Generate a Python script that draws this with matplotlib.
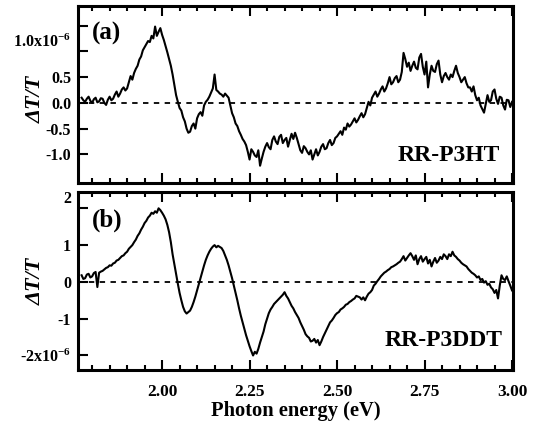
import numpy as np
import matplotlib
matplotlib.use("Agg")
import matplotlib.pyplot as plt
import matplotlib.transforms as mtransforms
from matplotlib.ticker import FixedLocator, MultipleLocator

plt.rcParams['font.family'] = ['Liberation Serif', 'DejaVu Serif']
plt.rcParams['font.weight'] = 'bold'
plt.rcParams['axes.unicode_minus'] = False
plt.rcParams['mathtext.fontset'] = 'custom'
plt.rcParams['mathtext.rm'] = 'Liberation Serif:bold'
plt.rcParams['mathtext.default'] = 'rm'

# energia de foton (eV), muestreo cada 0.005 eV
energia = np.round(np.linspace(1.77, 3.00, 247), 3)

# RR-P3HT, unidades de 1e-6
dT_p3ht = [
    0.10, 0.05, 0.02, 0.08, 0.12, 0.04, 0.00, 0.07, 0.10, 0.01,
    0.03, 0.09, 0.08, 0.00, -0.04, 0.06, 0.12, 0.05, 0.08, 0.16,
    0.22, 0.12, 0.18, 0.26, 0.30, 0.24, 0.28, 0.40, 0.52, 0.45,
    0.58, 0.66, 0.72, 0.84, 0.90, 1.02, 1.08, 1.14, 1.20, 1.18,
    1.30, 1.25, 1.48, 1.30, 1.38, 1.45, 1.32, 1.22, 1.10, 0.98,
    0.85, 0.72, 0.55, 0.35, 0.15, 0.02, -0.10, -0.15, -0.28, -0.36,
    -0.50, -0.58, -0.56, -0.45, -0.40, -0.50, -0.30, -0.22, -0.18, -0.25,
    -0.05, 0.02, 0.06, 0.12, 0.20, 0.28, 0.55, 0.25, 0.22, 0.18,
    0.16, 0.12, 0.18, 0.14, 0.10, -0.05, -0.20, -0.28, -0.40, -0.45,
    -0.55, -0.62, -0.70, -0.75, -0.82, -0.95, -1.10, -0.90, -0.95, -1.02,
    -1.05, -0.92, -1.22, -1.08, -0.95, -0.85, -0.78, -0.86, -0.90, -0.72,
    -0.65, -0.75, -0.80, -0.66, -0.62, -0.78, -0.72, -0.68, -0.85, -0.72,
    -0.60, -0.70, -0.58, -0.68, -0.80, -0.92, -0.97, -0.84, -0.88, -0.95,
    -1.00, -0.92, -1.10, -1.00, -0.90, -1.02, -0.95, -0.85, -0.80, -0.90,
    -0.88, -0.78, -0.72, -0.82, -0.78, -0.68, -0.65, -0.60, -0.55, -0.62,
    -0.48, -0.52, -0.40, -0.46, -0.42, -0.36, -0.30, -0.38, -0.33, -0.26,
    -0.20, -0.28, -0.22, -0.10, 0.02, -0.05, 0.10, 0.16, 0.22, 0.12,
    0.18, 0.26, 0.32, 0.22, 0.28, 0.38, 0.50, 0.36, 0.40, 0.48,
    0.52, 0.40, 0.45, 0.60, 0.97, 0.85, 0.70, 0.78, 0.62, 0.72,
    0.80, 0.68, 0.65, 0.88, 0.95, 0.70, 0.55, 0.80, 0.30, 0.55,
    0.72, 0.62, 0.60, 0.75, 0.82, 0.55, 0.40, 0.52, 0.58, 0.50,
    0.45, 0.55, 0.50, 0.62, 0.72, 0.58, 0.50, 0.40, 0.45, 0.50,
    0.38, 0.30, 0.30, 0.22, 0.32, 0.15, 0.05, 0.10, -0.05, -0.12,
    -0.19, -0.02, 0.15, 0.02, 0.05, 0.22, 0.26, 0.08, -0.02, 0.12,
    0.10, -0.05, -0.13, 0.06, 0.05, -0.08, 0.02,
]

# RR-P3DDT, unidades de 1e-6
dT_p3ddt = [
    0.18, 0.08, 0.10, 0.20, 0.22, 0.12, 0.15, 0.24, 0.27, -0.14,
    0.25, 0.28, 0.30, 0.34, 0.38, 0.40, 0.45, 0.44, 0.50, 0.52,
    0.58, 0.60, 0.65, 0.70, 0.72, 0.78, 0.82, 0.90, 0.95, 1.00,
    1.08, 1.15, 1.25, 1.32, 1.42, 1.50, 1.60, 1.66, 1.75, 1.80,
    1.88, 1.85, 1.92, 1.88, 2.00, 1.95, 1.88, 1.80, 1.70, 1.55,
    1.35, 1.08, 0.75, 0.48, 0.20, -0.05, -0.30, -0.50, -0.68, -0.80,
    -0.86, -0.82, -0.78, -0.68, -0.55, -0.40, -0.23, -0.05, 0.12, 0.28,
    0.45, 0.60, 0.72, 0.82, 0.90, 0.96, 1.00, 0.94, 0.98, 0.95,
    0.92, 0.84, 0.72, 0.60, 0.45, 0.28, 0.10, -0.10, -0.30, -0.50,
    -0.72, -0.92, -1.10, -1.28, -1.45, -1.60, -1.75, -1.88, -2.00, -1.90,
    -1.95, -1.82, -1.65, -1.50, -1.35, -1.15, -1.00, -0.85, -0.75, -0.68,
    -0.60, -0.55, -0.50, -0.45, -0.40, -0.35, -0.28, -0.38, -0.45, -0.55,
    -0.65, -0.72, -0.82, -0.90, -0.98, -1.10, -1.20, -1.30, -1.42, -1.48,
    -1.52, -1.62, -1.60, -1.55, -1.65, -1.58, -1.72, -1.62, -1.50, -1.40,
    -1.30, -1.20, -1.10, -1.05, -0.98, -0.90, -0.85, -0.82, -0.75, -0.72,
    -0.68, -0.62, -0.60, -0.55, -0.52, -0.48, -0.45, -0.38, -0.40, -0.42,
    -0.48, -0.42, -0.50, -0.40, -0.32, -0.28, -0.22, -0.10, -0.05, 0.02,
    0.08, 0.15, 0.20, 0.25, 0.28, 0.32, 0.35, 0.40, 0.42, 0.45,
    0.48, 0.52, 0.55, 0.62, 0.70, 0.58, 0.65, 0.72, 0.78, 0.70,
    0.60, 0.72, 0.48, 0.62, 0.70, 0.55, 0.62, 0.68, 0.50, 0.60,
    0.42, 0.55, 0.65, 0.52, 0.58, 0.68, 0.62, 0.75, 0.70, 0.62,
    0.75, 0.70, 0.82, 0.72, 0.68, 0.62, 0.58, 0.52, 0.48, 0.45,
    0.42, 0.35, 0.30, 0.25, 0.22, 0.18, 0.12, 0.15, 0.05, 0.08,
    -0.02, 0.02, -0.08, -0.05, -0.15, -0.20, -0.30, -0.22, -0.45, -0.10,
    0.18, 0.08, 0.05, 0.15, 0.02, -0.10, -0.23,
]

ticks_a = [-1.0, -0.5, 0.0, 0.5, 1.0, 1.5]
etiquetas_a = ['-1.0', '-0.5', '0.0', '0.5', '1.0x10$^{-6}$', '']
ticks_b = [-2, -1, 0, 1, 2]
etiquetas_b = ['-2x10$^{-6}$', '-1', '0', '1', '2']
ticks_x = [2.00, 2.25, 2.50, 2.75, 3.00]

fig = plt.figure(figsize=(5.35, 4.26), dpi=100)
ax_a = fig.add_axes([0.146, 0.571, 0.813, 0.415])
ax_b = fig.add_axes([0.146, 0.131, 0.813, 0.418])

paneles = [
    (ax_a, dT_p3ht, (-1.55, 1.88), ticks_a, etiquetas_a, '(a)', 'RR-P3HT', 0.47, 0.970, 0.155),
    (ax_b, dT_p3ddt, (-2.40, 2.44), ticks_b, etiquetas_b, '(b)', 'RR-P3DDT', 0.50, 0.975, 0.166),
]

for ax, datos, ylim, yt, ytl, letra, nombre, ylab_y, nx, ny in paneles:
    ax.plot(energia, datos, color='black', lw=1.5)
    ax.axhline(0, color='black', lw=1.3, ls=(0, (3, 3)))
    ax.set_xlim(1.76, 3.003)
    ax.set_ylim(*ylim)
    ax.xaxis.set_major_locator(FixedLocator(ticks_x))
    ax.xaxis.set_minor_locator(MultipleLocator(0.05))
    ax.yaxis.set_major_locator(FixedLocator(yt))
    ax.set_yticklabels(ytl)
    ax.tick_params(axis='both', which='both', direction='in', width=1.5,
                   top=True, right=False)
    ax.tick_params(axis='x', which='major', length=7, labelsize=12.5, pad=10)
    ax.tick_params(axis='x', which='minor', length=3.5)
    ax.tick_params(axis='y', which='major', length=7, labelsize=11.5, pad=5)
    for s in ax.spines.values():
        s.set_linewidth(2.2)
    ax.set_ylabel('ΔT/T', fontsize=16, fontstyle='italic', fontweight='bold')
    ax.yaxis.set_label_coords(-0.075, ylab_y)
    ax.text(0.032, 0.91, letra, transform=ax.transAxes, fontsize=18,
            fontweight='bold', va='top', ha='left')
    ax.text(nx, ny, nombre, transform=ax.transAxes,
            fontsize=17, fontweight='bold', va='center', ha='right')

ax_a.tick_params(axis='x', labelbottom=False)
ax_b.set_xticklabels(['2.00', '2.25', '2.50', '2.75', '3.00'])
ax_b.set_xlabel('Photon energy (eV)', fontsize=14.8, fontweight='bold', labelpad=1)

# las etiquetas superiores del eje y van un poco mas arriba, como en el original
sube = mtransforms.ScaledTranslation(0, 8 / 72, fig.dpi_scale_trans)
for ax, i in [(ax_a, 4), (ax_b, 4)]:
    lab = ax.yaxis.get_major_ticks()[i].label1
    lab.set_transform(lab.get_transform() + sube)

fig.savefig('out.png', dpi=100)
